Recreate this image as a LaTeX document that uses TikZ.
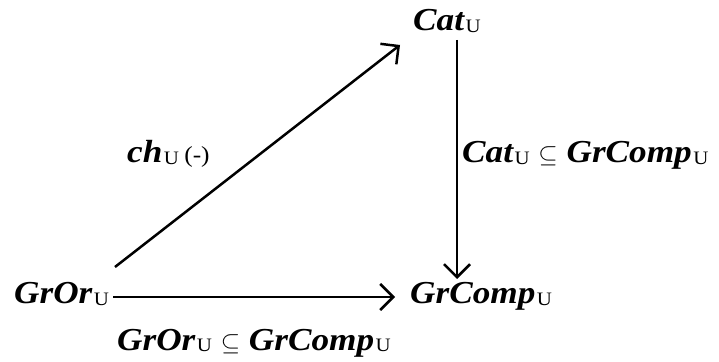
\documentclass[tikz,border=0pt]{standalone}
\usepackage{fontspec}
\setmainfont{Liberation Serif}[FakeStretch=1.1]
\usetikzlibrary{arrows.meta}
\newcommand\uu{{\fontsize{19}{19}\selectfont\mdseries\upshape\kern1.5pt\raisebox{-1.5pt}{U}}}
\newcommand\bi[1]{{\bfseries\itshape #1}}
\begin{document}
\begin{tikzpicture}[x=1pt,y=1pt,
  lbl/.style={inner sep=0pt,anchor=base west,font=\fontsize{32}{32}\selectfont},
  arr/.style={line width=2.5pt,-{Straight Barb[length=13pt,width=26pt,line width=2.5pt]}}]
\useasboundingbox (0,0) rectangle (719,361);
\node[lbl] (gror) at (14,57) {\bi{GrOr}\uu};
\node[lbl] (grcomp) at (410,57) {\bi{GrComp}\uu};
\node[lbl] (cat) at (413,330) {\bi{Cat}\uu};
\node[lbl] (lbot) at (117,11) {\bi{GrOr}\uu\ $\subseteq$ \bi{GrComp}\uu};
\node[lbl] (lright) at (462,198) {\bi{Cat}\uu\ $\subseteq$ \bi{GrComp}\uu};
\node[lbl] (lch) at (127,198) {\bi{ch}\uu\,{\fontsize{23}{23}\selectfont(-)}};
\draw[arr] ([xshift=99pt,yshift=7pt]gror.base west) -- ([xshift=-15pt,yshift=7pt]grcomp.base west);
\draw[arr] ([xshift=44pt,yshift=-9pt]cat.base west) -- ([xshift=47pt,yshift=25pt]grcomp.base west);
\draw[arr] ([xshift=101pt,yshift=37pt]gror.base west) -- ([xshift=-13pt,yshift=-14pt]cat.base west);
\end{tikzpicture}
\end{document}
